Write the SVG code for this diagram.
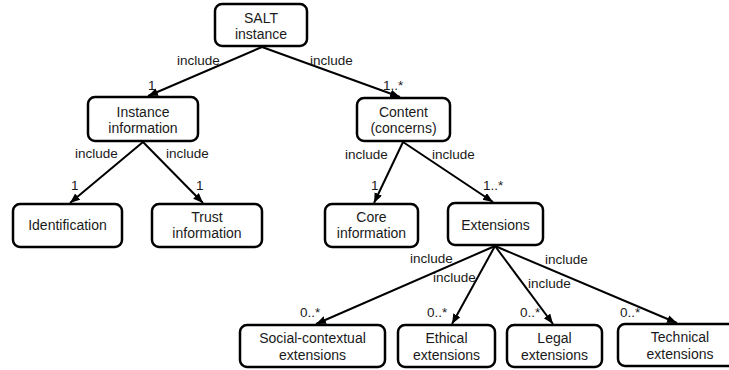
<svg xmlns="http://www.w3.org/2000/svg" width="729" height="370" viewBox="0 0 729 370">
<style>
.box{fill:#fff;stroke:#000;stroke-width:2.5}
.t{font-family:"Liberation Sans",Arial,sans-serif;font-size:14px;text-anchor:middle;fill:#1a1a1a}
.l{font-family:"Liberation Sans",Arial,sans-serif;font-size:13.5px;fill:#1a1a1a}
.c{stroke:#000;stroke-width:2;fill:none;marker-end:url(#ah)}
</style>
<defs>
<marker id="ah" markerUnits="userSpaceOnUse" markerWidth="12" markerHeight="10" refX="10" refY="4" orient="auto">
<path d="M0,0 L10,4 L0,8 Z" fill="#000"/>
</marker>
</defs>
<rect width="729" height="370" fill="#fff"/>
<g id="connectors">
<line class="c" x1="262" y1="47" x2="148" y2="96"/>
<line class="c" x1="262" y1="47" x2="400" y2="97"/>
<line class="c" x1="143" y1="142" x2="70" y2="203"/>
<line class="c" x1="143" y1="142" x2="203" y2="203"/>
<line class="c" x1="403" y1="142" x2="374" y2="203"/>
<line class="c" x1="403" y1="142" x2="493" y2="202"/>
<line class="c" x1="495" y1="246" x2="316" y2="324"/>
<line class="c" x1="495" y1="246" x2="452" y2="324"/>
<line class="c" x1="495" y1="246" x2="553" y2="324"/>
<line class="c" x1="495" y1="246" x2="677" y2="323"/>
<text class="l" x="177" y="65">include</text>
<text class="l" x="310" y="65">include</text>
<text class="l" x="148" y="90">1</text>
<text class="l" x="383" y="90">1..*</text>
<text class="l" x="75" y="158">include</text>
<text class="l" x="166" y="158">include</text>
<text class="l" x="71" y="190">1</text>
<text class="l" x="196" y="190">1</text>
<text class="l" x="345" y="159">include</text>
<text class="l" x="432" y="159">include</text>
<text class="l" x="371" y="190">1</text>
<text class="l" x="483" y="190">1..*</text>
<text class="l" x="410" y="263">include</text>
<text class="l" x="433" y="282">include</text>
<text class="l" x="528" y="288">include</text>
<text class="l" x="545" y="264">include</text>
<text class="l" x="300" y="317">0..*</text>
<text class="l" x="427" y="317">0..*</text>
<text class="l" x="520" y="317">0..*</text>
<text class="l" x="620" y="317">0..*</text>
</g>
<g id="salt"><rect class="box" x="215" y="4" width="92" height="42" rx="7"/><text class="t" x="261" y="23">SALT</text><text class="t" x="261" y="39">instance</text></g>
<g id="instinfo"><rect class="box" x="88" y="97" width="110" height="44" rx="7"/><text class="t" x="143" y="117">Instance</text><text class="t" x="143" y="133">information</text></g>
<g id="content"><rect class="box" x="357" y="98" width="93" height="43" rx="7"/><text class="t" x="403.5" y="117">Content</text><text class="t" x="403.5" y="133">(concerns)</text></g>
<g id="ident"><rect class="box" x="13" y="204" width="109" height="43" rx="7"/><text class="t" x="67.5" y="230">Identification</text></g>
<g id="trust"><rect class="box" x="152" y="204" width="110" height="43" rx="7"/><text class="t" x="207" y="222">Trust</text><text class="t" x="207" y="238">information</text></g>
<g id="core"><rect class="box" x="325" y="204" width="93" height="43" rx="7"/><text class="t" x="371.5" y="222">Core</text><text class="t" x="371.5" y="238">information</text></g>
<g id="ext"><rect class="box" x="448" y="203" width="95" height="42" rx="7"/><text class="t" x="495.5" y="230">Extensions</text></g>
<g id="social"><rect class="box" x="240" y="325" width="145" height="42" rx="7"/><text class="t" x="312.5" y="343">Social-contextual</text><text class="t" x="312.5" y="360">extensions</text></g>
<g id="ethical"><rect class="box" x="398" y="325" width="97" height="42" rx="7"/><text class="t" x="446.5" y="343">Ethical</text><text class="t" x="446.5" y="360">extensions</text></g>
<g id="legal"><rect class="box" x="507" y="325" width="95" height="42" rx="7"/><text class="t" x="554.5" y="343">Legal</text><text class="t" x="554.5" y="360">extensions</text></g>
<g id="technical"><rect class="box" x="618" y="324" width="124" height="42" rx="7"/><text class="t" x="680" y="342">Technical</text><text class="t" x="680" y="359">extensions</text></g>
</svg>
